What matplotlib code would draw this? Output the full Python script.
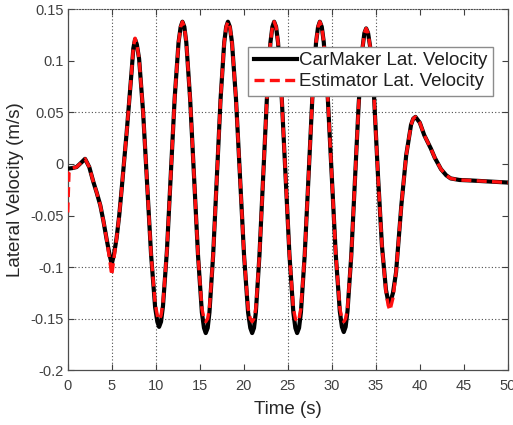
import matplotlib

matplotlib.use("Agg")
import matplotlib.pyplot as plt

plt.rcParams["font.family"] = ["Liberation Sans", "DejaVu Sans"]

# time samples (s)
time_s = [
    0.0, 0.15, 0.5, 1.0, 1.5, 1.97, 2.45, 2.9, 3.3, 3.7, 4.05, 4.4, 4.75, 5.0, 5.25,
    5.55, 5.85, 6.1, 6.4, 6.7, 7.0, 7.25, 7.45, 7.65, 7.85, 8.11, 8.56, 9.02, 9.47,
    9.93, 10.18, 10.38, 10.6, 10.82, 11.27, 11.71, 12.15, 12.59, 12.83, 13.03, 13.25,
    13.47, 13.91, 14.36, 14.80, 15.24, 15.48, 15.68, 15.9, 16.10, 16.52, 16.94, 17.36,
    17.78, 18.0, 18.20, 18.42, 18.66, 19.12, 19.58, 20.03, 20.49, 20.74, 20.95, 21.16,
    21.37, 21.78, 22.20, 22.62, 23.03, 23.25, 23.45, 23.67, 23.89, 24.32, 24.76, 25.19,
    25.63, 25.86, 26.06, 26.28, 26.49, 26.92, 27.35, 27.78, 28.21, 28.44, 28.64, 28.86,
    29.09, 29.55, 30.00, 30.45, 30.91, 31.15, 31.36, 31.57, 31.78, 32.21, 32.63, 33.05,
    33.48, 33.70, 33.90, 34.12, 34.35, 34.80, 35.25, 35.70, 36.15, 36.40, 36.60, 36.95,
    37.3, 37.9, 38.45, 39.0, 39.25, 39.5, 40.0, 40.5, 41.25, 41.7, 42.4, 43.0, 43.5,
    44.5, 45.8, 48.0, 50.0,
]

carmaker_v = [
    -0.0044, -0.0044, -0.004, -0.003, 0.001, 0.005, -0.003, -0.017, -0.028, -0.040,
    -0.055, -0.072, -0.088, -0.097, -0.088, -0.072, -0.050, -0.027, 0.002, 0.031,
    0.062, 0.089, 0.112, 0.121, 0.116, 0.102, 0.051, -0.0185, -0.088, -0.139, -0.153,
    -0.158, -0.153, -0.138, -0.084, -0.010, 0.064, 0.118, 0.133, 0.138, 0.133, 0.118,
    0.0625, -0.013, -0.0885, -0.144, -0.159, -0.164, -0.159, -0.144, -0.0885, -0.013,
    0.0625, 0.118, 0.133, 0.138, 0.133, 0.118, 0.0625, -0.013, -0.0885, -0.144, -0.159,
    -0.164, -0.159, -0.144, -0.0885, -0.013, 0.0625, 0.118, 0.133, 0.138, 0.133, 0.118,
    0.0625, -0.013, -0.0885, -0.144, -0.159, -0.164, -0.159, -0.144, -0.0885, -0.013,
    0.0625, 0.118, 0.133, 0.138, 0.133, 0.118, 0.063, -0.0125, -0.088, -0.143, -0.158,
    -0.163, -0.158, -0.143, -0.089, -0.016, 0.058, 0.112, 0.127, 0.1315, 0.127, 0.114,
    0.065, -0.012, -0.080, -0.122, -0.133, -0.1355, -0.125, -0.105, -0.040, 0.0085,
    0.038, 0.044, 0.0457, 0.040, 0.028, 0.015, 0.006, -0.005, -0.011, -0.014, -0.0155,
    -0.016, -0.017, -0.018,
]

estimator_v = [
    -0.047, -0.008, -0.004, -0.003, 0.001, 0.005, -0.003, -0.017, -0.028, -0.040,
    -0.055, -0.072, -0.092, -0.108, -0.092, -0.072, -0.050, -0.027, 0.002, 0.031,
    0.062, 0.089, 0.113, 0.122, 0.116, 0.102, 0.051, -0.0185, -0.088, -0.135, -0.147,
    -0.151, -0.147, -0.135, -0.084, -0.010, 0.064, 0.118, 0.133, 0.138, 0.133, 0.118,
    0.0625, -0.013, -0.0885, -0.140, -0.150, -0.153, -0.150, -0.140, -0.0885, -0.013,
    0.0625, 0.118, 0.133, 0.138, 0.133, 0.118, 0.0625, -0.013, -0.0885, -0.140, -0.150,
    -0.153, -0.150, -0.140, -0.0885, -0.013, 0.0625, 0.118, 0.133, 0.138, 0.133, 0.118,
    0.0625, -0.013, -0.0885, -0.140, -0.150, -0.153, -0.150, -0.140, -0.0885, -0.013,
    0.0625, 0.118, 0.133, 0.138, 0.133, 0.118, 0.063, -0.0125, -0.088, -0.140, -0.150,
    -0.153, -0.150, -0.140, -0.089, -0.016, 0.058, 0.112, 0.127, 0.1315, 0.127, 0.114,
    0.065, -0.012, -0.080, -0.124, -0.137, -0.142, -0.130, -0.105, -0.040, 0.0085,
    0.038, 0.044, 0.0457, 0.040, 0.028, 0.015, 0.006, -0.005, -0.011, -0.014, -0.0155,
    -0.016, -0.017, -0.018,
]

x_ticks = [0, 5, 10, 15, 20, 25, 30, 35, 40, 45, 50]
y_ticks = [-0.2, -0.15, -0.1, -0.05, 0, 0.05, 0.1, 0.15]
y_tick_labels = ["-0.2", "-0.15", "-0.1", "-0.05", "0", "0.05", "0.1", "0.15"]
# grid lines that show up in the reference
grid_x = [5, 10, 25, 30, 35]
grid_y = [0.05, -0.1, -0.15]

fig = plt.figure(figsize=(5.13, 4.25), dpi=100)
ax = fig.add_axes([0.132, 0.129, 0.858, 0.849])

for gx in grid_x:
    ax.axvline(gx, color="0.3", lw=0.8, ls=(0, (1, 2)), zorder=1)
for gy in grid_y:
    ax.axhline(gy, color="0.3", lw=0.8, ls=(0, (1, 2)), zorder=1)

ax.plot(time_s, carmaker_v, color="black", lw=3.0, label="CarMaker Lat. Velocity", zorder=3)
ax.plot(time_s, estimator_v, color="#ff1010", lw=2.4, dashes=(3.0, 1.6),
        label="Estimator Lat. Velocity", zorder=4)

ax.set_xlim(0, 50)
ax.set_ylim(-0.2, 0.15)
ax.set_xticks(x_ticks)
ax.set_yticks(y_ticks)
ax.set_yticklabels(y_tick_labels)
ax.tick_params(direction="in", length=4, width=0.8, colors="0.25", labelsize=10.5,
               top=True, right=True)
ax.tick_params(axis="x", pad=6)
ax.tick_params(axis="y", pad=3)
for side in ("left", "right", "bottom"):
    ax.spines[side].set_color("0.3")
    ax.spines[side].set_linewidth(0.9)
ax.spines["top"].set_color("0.3")
ax.spines["top"].set_linestyle((0, (1, 1.5)))

ax.set_xlabel("Time (s)", fontsize=13.5, color="0.15", labelpad=6)
ax.set_ylabel("Lateral Velocity (m/s)", fontsize=13.5, color="0.15", labelpad=4)

leg = ax.legend(loc="upper right", bbox_to_anchor=(0.966, 0.897), borderaxespad=0,
                fontsize=13.5, handlelength=2.3, handletextpad=0.1, labelspacing=0.2,
                borderpad=0.3, fancybox=False, framealpha=1, edgecolor="0.55")
for txt in leg.get_texts():
    txt.set_color("0.12")

fig.savefig("out.png", dpi=100)
